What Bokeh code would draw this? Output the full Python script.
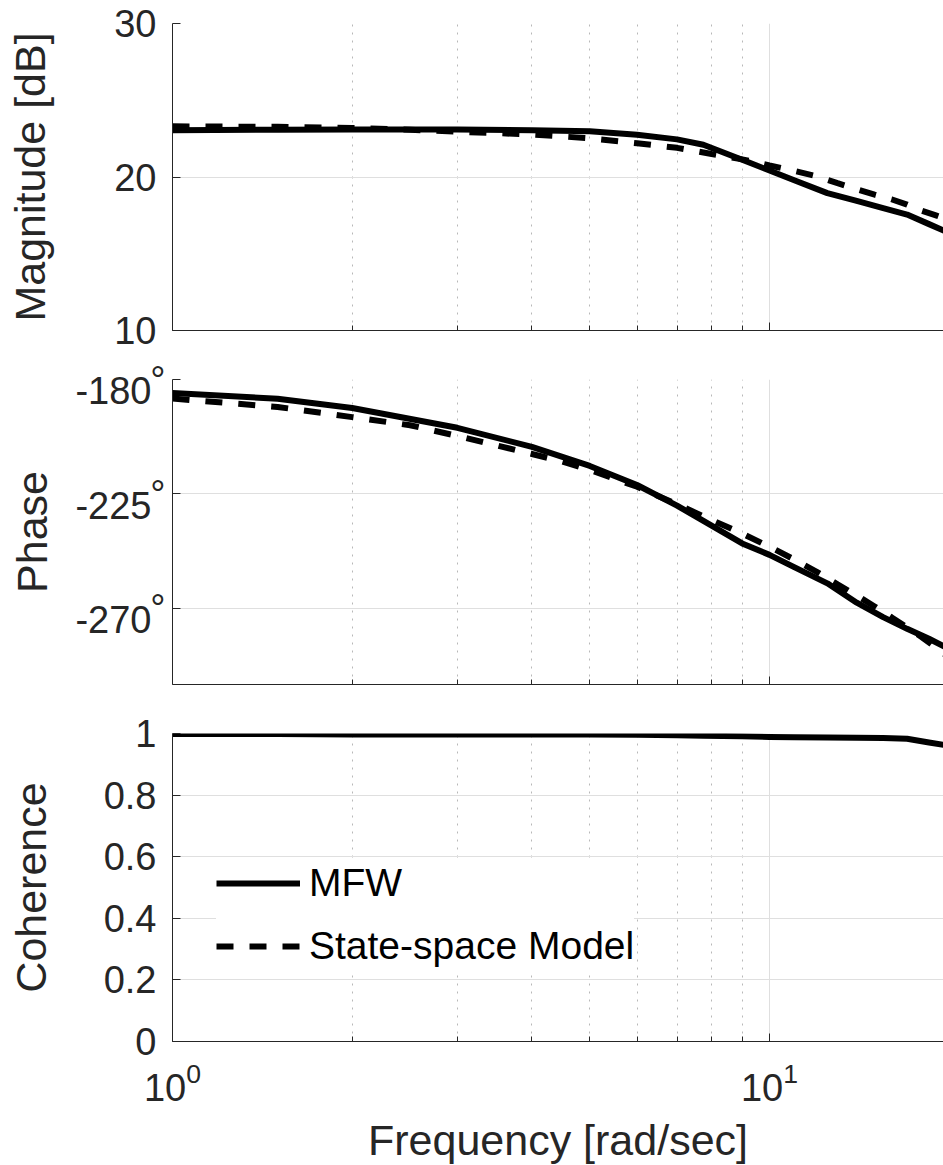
from bokeh.plotting import figure
from bokeh.layouts import column
from bokeh.models import Range1d, FixedTicker, Legend, LegendItem, LinearAxis
from bokeh.embed import file_html
from bokeh.resources import INLINE

# ---------------- data ----------------
freq_mfw = [1, 1.5, 2, 3, 4, 5, 6, 7, 7.75, 9, 10, 11, 12.5, 14, 15.5, 17, 18.5, 20]
mag_mfw = [23.05, 23.08, 23.1, 23.1, 23.05, 22.98, 22.75, 22.45, 22.1, 21.12,
           20.42, 19.79, 18.95, 18.44, 17.97, 17.55, 16.93, 16.35]
phase_mfw = [-185.3, -187.6, -191.2, -199.0, -206.5, -214.0, -221.5, -229.6, -235.6,
             -244.5, -249.0, -253.8, -260.2, -267.8, -273.5, -278.1, -282.0, -286.0]
coh_mfw = [0.998, 0.998, 0.997, 0.997, 0.997, 0.997, 0.996, 0.994, 0.993, 0.991,
           0.989, 0.988, 0.987, 0.986, 0.985, 0.983, 0.971, 0.960]

freq_model = [1, 1.5, 2, 2.5, 3, 3.5, 4, 4.5, 5, 6, 7, 8, 9, 10, 11, 12, 13, 14,
              15, 16, 17, 18, 19, 20]
mag_model = [23.3, 23.27, 23.2, 23.08, 22.95, 22.86, 22.76, 22.64, 22.52, 22.2, 21.9,
             21.5, 21.15, 20.75, 20.4, 20.05, 19.6, 19.2, 18.85, 18.55, 18.2, 17.8,
             17.5, 17.2]
phase_model = [-187.5, -190.8, -194.8, -198.0, -202.2, -206.0, -209.3, -212.3, -215.6,
               -222.2, -229.1, -235.3, -240.6, -245.8, -250.8, -255.7, -260.6, -265.0,
               -269.3, -273.5, -277.5, -281.4, -285.5, -289.4]

x_major_ticks = [1, 10]
x_minor_ticks = [2, 3, 4, 5, 6, 7, 8, 9, 20]
mag_ticks = [10, 20, 30]
phase_ticks = [-270, -225, -180]
phase_tick_labels = ["-270", "-225", "-180"]
coh_ticks = [0, 0.2, 0.4, 0.6, 0.8, 1]
series_names = ["MFW", "State-space Model"]

# ---------------- style ----------------
FONT = "Liberation Sans"
TXT = "#262626"
GRID = "#dfdfdf"
MINOR = "#b8b8b8"
TICK_FS = "38px"
LABEL_FS = "43px"
LW = 6
DASH = "17 16"
X_MAX = 10 ** (771 / 597)
PHASE_NUM_SHIFT = 4.5    # degrees: numbers sit a little below their tick


def style_axis(ax):
    ax.axis_line_color = TXT
    ax.axis_line_width = 1
    ax.major_tick_line_color = TXT
    ax.minor_tick_line_color = TXT
    ax.major_tick_in = 8
    ax.major_tick_out = 0
    ax.minor_tick_in = 5
    ax.minor_tick_out = 0
    ax.major_label_text_font = FONT
    ax.major_label_text_font_size = TICK_FS
    ax.major_label_text_color = TXT
    ax.axis_label_text_font = FONT
    ax.axis_label_text_font_size = LABEL_FS
    ax.axis_label_text_font_style = "normal"
    ax.axis_label_text_color = TXT


def make_fig(y0, y1, yticks, top, frame_h, bottom, show_x_labels):
    p = figure(frame_width=771, frame_height=frame_h, x_axis_type="log",
               x_range=Range1d(1, X_MAX), y_range=Range1d(y0, y1),
               output_backend="svg", toolbar_location=None,
               min_border_left=172, min_border_right=0,
               min_border_top=top, min_border_bottom=bottom)
    p.outline_line_color = None
    p.background_fill_color = "white"
    p.border_fill_color = "white"
    p.xaxis.ticker = FixedTicker(ticks=x_major_ticks, minor_ticks=x_minor_ticks)
    p.yaxis.ticker = FixedTicker(ticks=yticks)
    style_axis(p.xaxis[0])
    style_axis(p.yaxis[0])
    p.yaxis.minor_tick_in = 0
    p.yaxis.major_label_standoff = 16
    if not show_x_labels:
        p.xaxis.major_label_text_font_size = "1px"
        p.xaxis.major_label_text_alpha = 0
        p.xaxis.major_label_standoff = 0
    p.xgrid.grid_line_color = GRID
    p.xgrid.minor_grid_line_color = MINOR
    p.xgrid.minor_grid_line_dash = "2 6"
    p.ygrid.grid_line_color = GRID
    return p


# ---- magnitude ----
p1 = make_fig(10, 30, mag_ticks, 23, 307, 24, False)
p1.yaxis.axis_label = "Magnitude [dB]"
p1.yaxis.axis_label_standoff = 57
p1.line(freq_mfw, mag_mfw, line_width=LW, color="black", line_join="round")
p1.line(freq_model, mag_model, line_width=LW, color="black", line_dash=DASH)

# ---- phase ----
p2 = make_fig(-300, -180, phase_ticks, 25, 305, 24, False)
# inner axis: tick marks + raised degree signs
p2.yaxis.major_label_overrides = {t: "°" for t in phase_ticks}
p2.yaxis.major_label_standoff = 7
# outer axis: the numbers, a little lower than the ticks
num_ticks = [t - PHASE_NUM_SHIFT for t in phase_ticks]
ax_num = LinearAxis(ticker=FixedTicker(ticks=num_ticks),
                    major_label_overrides={n: s for n, s in zip(num_ticks, phase_tick_labels)})
style_axis(ax_num)
ax_num.axis_line_color = None
ax_num.major_tick_line_color = None
ax_num.minor_tick_line_color = None
ax_num.major_label_standoff = -4
ax_num.axis_label = "Phase"
ax_num.axis_label_standoff = 16
p2.add_layout(ax_num, "left")
p2.line(freq_mfw, phase_mfw, line_width=LW, color="black", line_join="round")
p2.line(freq_model, phase_model, line_width=LW, color="black", line_dash=DASH)

# ---- coherence ----
p3 = make_fig(0, 1, coh_ticks, 25, 308, 124, True)
p3.yaxis.axis_label = "Coherence"
p3.yaxis.axis_label_standoff = 46
p3.xaxis.axis_label = "Frequency [rad/sec]"
p3.xaxis.major_label_standoff = 20
p3.xaxis.axis_label_standoff = 12
r_solid = p3.line(freq_mfw, coh_mfw, line_width=LW, color="black", line_join="round")
r_dash = p3.line(x=[1], y=[float("nan")], line_width=LW, color="black", line_dash=DASH)

legend = Legend(items=[LegendItem(label=series_names[0], renderers=[r_solid]),
                       LegendItem(label=series_names[1], renderers=[r_dash])],
                location=(44, 71), orientation="vertical",
                background_fill_color="white", background_fill_alpha=1.0,
                border_line_color=None,
                label_text_font=FONT, label_text_font_size="39px",
                label_text_color="black",
                glyph_width=84, glyph_height=48, label_height=48,
                label_standoff=9, spacing=15, padding=15, margin=0)
p3.add_layout(legend)

layout = column(p1, p2, p3, spacing=0)
open("out.html", "w").write(file_html(layout, INLINE))
